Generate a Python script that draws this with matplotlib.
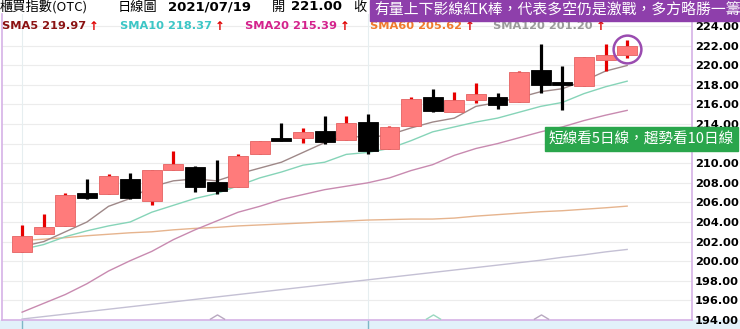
import matplotlib
matplotlib.use('Agg')
import matplotlib.pyplot as plt
from matplotlib.patches import Rectangle

# OTC index daily candles, 2021/06 - 2021/07/19
opens = [200.9, 202.8, 203.6, 207.0, 206.9, 208.4, 206.1, 209.35, 209.65, 208.05,
         207.6, 210.9, 212.55, 212.6, 213.3, 212.4, 214.2, 211.4, 213.8, 216.8,
         215.2, 216.5, 216.8, 216.2, 219.5, 218.25, 217.9, 220.5, 221.0]
highs = [203.7, 204.8, 207.0, 208.4, 208.85, 209.0, 209.3, 211.2, 209.7, 210.3,
         210.95, 212.3, 214.1, 213.6, 214.85, 214.85, 215.0, 213.8, 216.8, 217.6,
         217.3, 218.2, 217.2, 219.4, 222.2, 219.9, 220.85, 222.2, 222.55]
lows = [200.9, 202.8, 203.6, 206.3, 206.9, 206.3, 205.7, 209.35, 207.1, 206.9,
        207.6, 210.9, 212.3, 212.1, 212.0, 212.4, 210.95, 211.4, 213.8, 215.2,
        215.2, 216.1, 215.5, 216.2, 217.2, 215.4, 217.9, 219.4, 220.75]
closes = [202.6, 203.5, 206.8, 206.5, 208.7, 206.5, 209.3, 209.9, 207.6, 207.2,
          210.7, 212.3, 212.3, 213.2, 212.2, 214.1, 211.2, 213.7, 216.6, 215.3,
          216.4, 217.1, 215.9, 219.3, 218.0, 218.0, 220.8, 221.0, 221.95]

sma5 = [201.5, 202.0, 203.0, 204.0, 205.6, 206.4, 207.6, 208.2, 208.4, 208.2,
        208.9, 209.5, 210.1, 211.1, 212.1, 212.8, 212.6, 212.9, 213.6, 214.2,
        214.6, 215.8, 216.2, 216.7, 217.3, 217.6, 218.4, 219.4, 219.97]
sma10 = [201.2, 201.7, 202.5, 203.1, 203.6, 204.0, 205.0, 205.7, 206.4, 206.9,
         207.7, 208.5, 209.1, 209.8, 210.1, 210.9, 211.1, 211.5, 212.3, 213.2,
         213.7, 214.2, 214.6, 215.2, 215.8, 216.2, 217.1, 217.8, 218.37]
sma20 = [194.8, 195.7, 196.6, 197.7, 199.0, 200.05, 201.0, 202.2, 203.2, 204.1,
         205.0, 205.6, 206.3, 206.8, 207.3, 207.65, 208.0, 208.5, 209.25, 209.85,
         210.8, 211.5, 212.0, 212.6, 213.2, 213.7, 214.35, 214.9, 215.39]
sma60 = [202.1, 202.25, 202.4, 202.6, 202.75, 202.9, 203.0, 203.2, 203.35, 203.45,
         203.6, 203.7, 203.8, 203.9, 204.0, 204.1, 204.2, 204.25, 204.3, 204.3,
         204.4, 204.6, 204.75, 204.9, 205.05, 205.15, 205.3, 205.45, 205.62]
sma120 = [194.1, 194.35, 194.6, 194.85, 195.1, 195.35, 195.6, 195.85, 196.1, 196.35,
          196.6, 196.85, 197.1, 197.35, 197.6, 197.85, 198.1, 198.35, 198.6, 198.85,
          199.1, 199.35, 199.6, 199.85, 200.1, 200.4, 200.65, 200.95, 201.2]

legend_names = ['SMA5', 'SMA10', 'SMA20', 'SMA60', 'SMA120']
legend_colors = ['#8b1212', '#3cc6c6', '#d4228c', '#f07a2c', '#9a9a9a']
line_colors = ['#9e8888', '#86d4b8', '#c88ab0', '#e6b48e', '#c4c0d4']
month_starts = [0, 16]
cross_marks = [9, 19, 24]
cross_colors = ['#b8a8c0', '#9ad8c0', '#b8a8c0']
price_ticks = list(range(194, 226, 2))
hidden_tick = 212   # covered by the green note in the original

CJK = ['Noto Sans CJK TC', 'DejaVu Sans']

fig = plt.figure(figsize=(7.4, 3.29), dpi=100)
fig.patches.append(Rectangle((0, 0), 1, 9 / 329, transform=fig.transFigure,
                             color='#e2f1fa', zorder=-1))
ax = fig.add_axes([2 / 740, 9 / 329, 690 / 740, 306 / 329])
ax.set_xlim(-0.93, 31.0)
ax.set_ylim(194, 194 + 306 / 9.8)

# grid
for v in price_ticks:
    ax.axhline(v, color='#ececec', lw=0.8, zorder=0)
for i in month_starts:
    ax.axvline(i, color='#e6eef0', lw=0.8, zorder=0)

# moving averages
idx = list(range(len(closes)))
for ser, col in zip([sma120, sma60, sma20, sma10, sma5], line_colors[::-1]):
    ax.plot(idx, ser, color=col, lw=1.0, zorder=2)

# candles
for i in idx:
    o, h, l, c = opens[i], highs[i], lows[i], closes[i]
    up = c >= o
    wick = '#e60000' if up else 'black'
    ax.vlines(i, l, h, color=wick, lw=2.3, zorder=3)
    body_h = max(abs(c - o), 0.22)
    if up:
        ax.bar(i, body_h, bottom=min(o, c), width=0.92, color='#ff7b7b',
               edgecolor='#e46262', lw=0.6, zorder=4)
    else:
        ax.bar(i, body_h, bottom=min(o, c), width=0.92, color='black',
               edgecolor='black', lw=0.6, zorder=4)

# circle around last candle
last = len(closes) - 1
ax.plot(last, (highs[last] + lows[last]) / 2, 'o', ms=20, mfc='none',
        mec='#9a4cb0', mew=1.8, clip_on=False, zorder=6)

# small chevrons at the bottom edge
chev = [(-1, 0), (0, 0.6), (1, 0)]
for i, col in zip(cross_marks, cross_colors):
    ax.plot(i, 194.15, marker=chev, ms=11, mfc='none', mec=col, mew=1.0,
            ls='none', clip_on=False, zorder=5)

# axes styling
for s in ['left', 'right', 'bottom']:
    ax.spines[s].set_color('#d6b2e6')
    ax.spines[s].set_linewidth(1.2)
ax.spines['top'].set_visible(False)
ax.set_xticks(month_starts)
ax.set_xticklabels([])
ax.tick_params(axis='x', direction='out', length=7, width=1, color='#7fb6c6')
ax.yaxis.tick_right()
ax.set_yticks(price_ticks)
ax.set_yticklabels(['' if v == hidden_tick else '%.2f' % v for v in price_ticks],
                   fontweight='bold', fontsize=8.2)
ax.tick_params(axis='y', length=0, pad=2)

# header row
fig.text(0.0, 1 - 7 / 329, '櫃買指數(OTC)', family=CJK, fontsize=9.5, va='center')
fig.text(118 / 740, 1 - 7 / 329, '日線圖', family=CJK, fontsize=9.5, va='center')
fig.text(168 / 740, 1 - 7 / 329, '2021/07/19', fontsize=9.5, fontweight='bold', va='center')
fig.text(272 / 740, 1 - 7 / 329, '開', family=CJK, fontsize=9.5, va='center')
fig.text(291 / 740, 1 - 7 / 329, '221.00', fontsize=9.5, fontweight='bold', va='center')
fig.text(353 / 740, 1 - 7 / 329, '收', family=CJK, fontsize=9.5, va='center')

# banner
fig.patches.append(Rectangle((370 / 740, 1 - 21 / 329), 370 / 740, 21 / 329,
                             transform=fig.transFigure, color='#8e3fab', zorder=5))
fig.text(374 / 740, 1 - 11 / 329, '有量上下影線紅K棒，代表多空仍是激戰，多方略勝一籌',
         family=CJK, fontsize=10.7, color='white', va='center', zorder=6)

# SMA legend row
legend_vals = [sma5[-1], sma10[-1], sma20[-1], sma60[-1], sma120[-1]]
legend_x = [2, 120, 245, 370, 493]
for name, val, col, x in zip(legend_names, legend_vals, legend_colors, legend_x):
    t = fig.text(x / 740, 1 - 26 / 329, '%s %.2f' % (name, val), color=col,
                 fontsize=8.2, fontweight='bold', va='center', zorder=4)
    fig.canvas.draw()
    bb = t.get_window_extent()
    fig.text((bb.x1 + 3) / 740, 1 - 26 / 329, '↑', color='#e00000', fontsize=8.5,
             fontweight='bold', va='center', zorder=4)

# green note box
fig.patches.append(Rectangle((545 / 740, 1 - 151 / 329), 193 / 740, 24 / 329,
                             transform=fig.transFigure, color='#2aa64c', zorder=5))
fig.text(548 / 740, 1 - 139 / 329, '短線看5日線，趨勢看10日線', family=CJK,
         fontsize=10.5, color='white', va='center', zorder=6)

fig.savefig('out.png', dpi=100)
